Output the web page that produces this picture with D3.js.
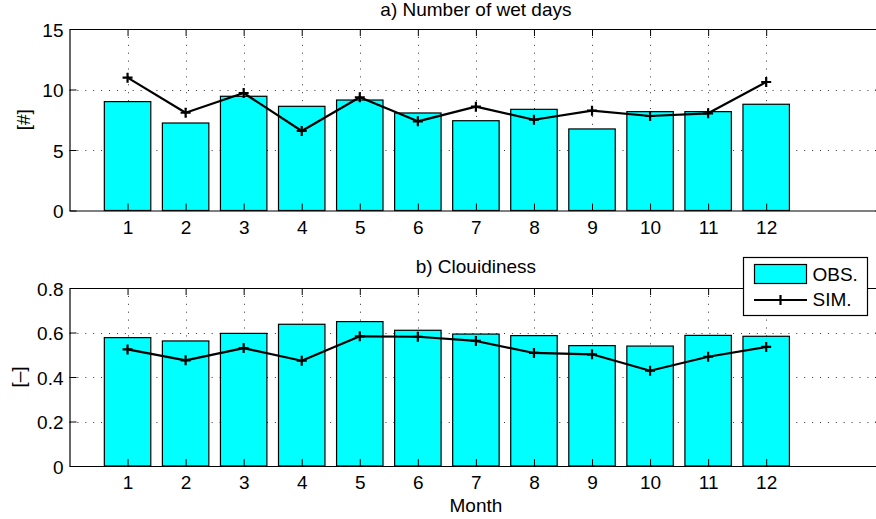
<!DOCTYPE html>
<html>
<head>
<meta charset="utf-8">
<script src="https://cdn.jsdelivr.net/npm/d3@7"></script>
<style>
  body { margin: 0; background: #fff; }
  text { font-family: "Liberation Sans", Arial, Helvetica, sans-serif; font-size: 19px; fill: #000; }
</style>
</head>
<body>
<svg id="chart" width="876" height="519"></svg>
<script>
// Monthly values: observed (bars) vs simulated (line)
const months = [1, 2, 3, 4, 5, 6, 7, 8, 9, 10, 11, 12];

const wetDaysObs = [9.0, 7.23, 9.44, 8.61, 9.13, 8.06, 7.42, 8.36, 6.74, 8.17, 8.17, 8.78];
const wetDaysSim = [10.98, 8.08, 9.71, 6.57, 9.36, 7.37, 8.58, 7.5, 8.25, 7.81, 8.03, 10.62];

const cloudObs = [0.577, 0.562, 0.596, 0.637, 0.649, 0.61, 0.593, 0.586, 0.541, 0.539, 0.587, 0.583];
const cloudSim = [0.524, 0.475, 0.53, 0.473, 0.583, 0.581, 0.562, 0.508, 0.502, 0.428, 0.491, 0.535];

const wetTicks = [0, 5, 10, 15];
const wetTickLabels = ["0", "5", "10", "15"];
const cloudTicks = [0, 0.2, 0.4, 0.6, 0.8];
const cloudTickLabels = ["0", "0.2", "0.4", "0.6", "0.8"];

const seriesNames = ["OBS.", "SIM."];

const svg = d3.select("#chart");
const BAR_FILL = "#00ffff";
const FONT_SIZE = "19px";

// shared month axis, range 0..14 with ticks at the months
const x = d3.scaleLinear().domain([0, 14]).range([69.5, 882.3]);

function plusPath(s) { return `M${-s},0H${s}M0,${-s}V${s}`; }

function drawPanel(p) {
  const y = d3.scaleLinear().domain([0, p.ticks[p.ticks.length - 1]]).range([p.bottom, p.top]);
  const g = svg.append("g");
  const fmt = (d) => p.tickLabels[p.ticks.indexOf(d)];

  // dotted grid behind the bars
  const grid = g.append("g").attr("stroke", "#333").attr("stroke-width", 1)
    .attr("stroke-dasharray", "1 6.9");
  grid.selectAll("line.h").data(p.ticks.slice(1, -1)).join("line")
    .attr("x1", x(0)).attr("x2", x(14))
    .attr("y1", d => Math.round(y(d)) + 0.5).attr("y2", d => Math.round(y(d)) + 0.5);
  grid.selectAll("line.v").data(months).join("line")
    .attr("x1", d => Math.round(x(d)) + 0.5).attr("x2", d => Math.round(x(d)) + 0.5)
    .attr("y1", p.top).attr("y2", p.bottom);

  // observed bars (width 0.8)
  g.append("g").selectAll("rect").data(months).join("rect")
    .attr("x", (d) => x(d - 0.4))
    .attr("width", x(0.8) - x(0))
    .attr("y", (d, i) => y(p.obs[i]))
    .attr("height", (d, i) => y(0) - y(p.obs[i]))
    .attr("fill", BAR_FILL).attr("stroke", "#000").attr("stroke-width", 1.2);

  // simulated line with '+' markers
  const line = d3.line().x((d) => x(d[0])).y((d) => y(d[1]));
  g.append("path").datum(months.map((m, i) => [m, p.sim[i]]))
    .attr("d", line).attr("fill", "none").attr("stroke", "#000")
    .attr("stroke-width", 2.2).attr("stroke-linejoin", "round");
  g.append("g").selectAll("path").data(months).join("path")
    .attr("transform", (d, i) => `translate(${x(d)},${y(p.sim[i])})`)
    .attr("d", plusPath(5)).attr("stroke", "#000").attr("stroke-width", 2.2);

  // axes (inward ticks, box on)
  const axL = d3.axisLeft(y).tickValues(p.ticks).tickFormat(fmt)
    .tickSize(-7).tickSizeOuter(0).tickPadding(6);
  const axB = d3.axisBottom(x).tickValues(months).tickFormat(d3.format("d"))
    .tickSize(-7).tickSizeOuter(0).tickPadding(10);
  const axT = d3.axisTop(x).tickValues(months).tickFormat("")
    .tickSize(-7).tickSizeOuter(0);
  const axR = d3.axisRight(y).tickValues(p.ticks).tickFormat("")
    .tickSize(-7).tickSizeOuter(0);

  const gl = g.append("g").attr("transform", `translate(${x(0)},0)`).call(axL);
  gl.selectAll("text").attr("dy", "0.37em");
  g.append("g").attr("transform", `translate(0,${y(0)})`).call(axB);
  g.append("g").attr("transform", `translate(0,${y(p.ticks[p.ticks.length - 1])})`).call(axT);
  g.append("g").attr("transform", `translate(${x(14)},0)`).call(axR);
  g.selectAll(".domain").attr("stroke", "#000").attr("stroke-width", 1.2);
  g.selectAll(".tick line").attr("stroke", "#000");
  g.selectAll(".tick text").attr("font-family", null).attr("font-size", null)
    .style("font-size", FONT_SIZE);

  // title and y label
  g.append("text").attr("x", x(7)).attr("y", p.titleY)
    .attr("text-anchor", "middle").text(p.title);
  g.append("text")
    .attr("transform", `translate(${p.ylabelX},${(p.top + p.bottom) / 2}) rotate(-90)`)
    .attr("text-anchor", "middle").text(p.ylabel);
  return y;
}

drawPanel({
  top: 29, bottom: 210.5, ticks: wetTicks, tickLabels: wetTickLabels,
  obs: wetDaysObs, sim: wetDaysSim,
  title: "a) Number of wet days", titleY: 16, ylabel: "[#]", ylabelX: 29.5
});

drawPanel({
  top: 288, bottom: 466, ticks: cloudTicks, tickLabels: cloudTickLabels,
  obs: cloudObs, sim: cloudSim,
  title: "b) Clouidiness", titleY: 273, ylabel: "[–]", ylabelX: 24.5
});

svg.append("text").attr("x", x(7)).attr("y", 511.5)
  .attr("text-anchor", "middle").text("Month");

// legend
const lg = svg.append("g");
lg.append("rect").attr("x", 743.5).attr("y", 257.5).attr("width", 124).attr("height", 58)
  .attr("fill", "#fff").attr("stroke", "#000").attr("stroke-width", 1.2);
lg.append("rect").attr("x", 754.5).attr("y", 264.5).attr("width", 52).attr("height", 19)
  .attr("fill", BAR_FILL).attr("stroke", "#000").attr("stroke-width", 1.2);
lg.append("line").attr("x1", 754).attr("x2", 807).attr("y1", 300).attr("y2", 300)
  .attr("stroke", "#000").attr("stroke-width", 2.2);
lg.append("path").attr("transform", "translate(780.5,300)").attr("d", plusPath(5))
  .attr("stroke", "#000").attr("stroke-width", 2.2);
lg.selectAll("text").data(seriesNames).join("text")
  .attr("x", 812.5).attr("y", (d, i) => i === 0 ? 281 : 305.5).text((d) => d);
</script>
</body>
</html>
